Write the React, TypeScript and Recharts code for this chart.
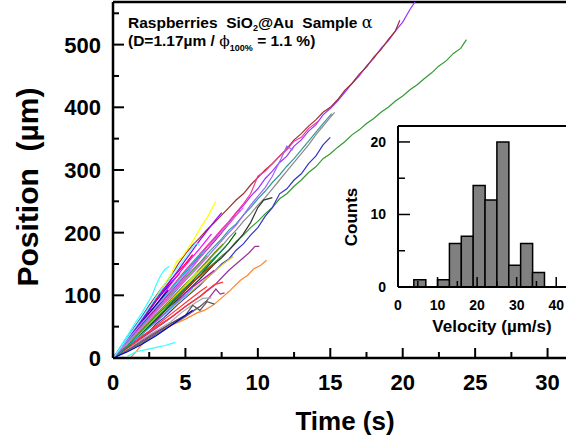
import { LineChart, Line, XAxis, YAxis, ReferenceLine, BarChart, Bar } from 'recharts';

// main plot: particle position vs time, one array of [t (s), x (µm)] per tracked raspberry
const trackPurple = [[0,0],[0.5,12],[1,22],[1.5,38],[2,50],[2.5,68],[3,80],[3.5,96],[4,108],[4.5,125],[5,136],[5.5,150],[6,163],[6.5,178],[7,190],[7.5,205],[8,216],[8.5,232],[9,243],[9.5,258],[10,270],[10.5,286],[11,298],[11.5,312],[12,322],[12.5,338],[13,348],[13.5,362],[14,372],[14.5,388],[15,398],[15.5,410],[16,424],[16.5,438],[17,450],[17.5,466],[18,478],[18.5,494],[19,506],[19.5,522],[20,536],[20.5,556],[20.9,570]];
const trackBrown = [[0,0],[0.5,15],[1,32],[1.5,50],[2,66],[2.5,84],[3,100],[3.5,116],[4,130],[4.5,150],[5,166],[5.5,180],[6,192],[6.5,205],[7,216],[7.5,228],[8,240],[8.5,252],[9,262],[9.5,276],[10,288],[10.5,300],[11,310],[11.5,322],[12,334],[12.5,348],[13,358],[13.5,370],[14,380],[14.5,392],[15,400],[15.5,412],[16,427],[16.5,438],[17,453],[17.5,464],[18,480],[18.5,492],[19,508],[19.5,522],[19.8,539]];
const trackGreen = [[0,0],[0.5,8],[1,20],[1.5,30],[2,42],[2.5,54],[3,64],[3.5,78],[4,88],[4.5,100],[5,110],[5.5,122],[6,130],[6.5,142],[7,152],[7.5,163],[8,172],[8.5,186],[9,196],[9.5,208],[10,218],[10.5,230],[11,240],[11.5,254],[12,262],[12.5,274],[13,284],[13.5,296],[14,305],[14.5,318],[15,326],[15.5,336],[16,345],[16.5,356],[17,364],[17.5,374],[18,382],[18.5,392],[19,400],[19.5,410],[20,418],[20.5,428],[21,436],[21.5,446],[22,455],[22.5,466],[23,474],[23.5,486],[24,494],[24.4,508]];
const trackBlue = [[0,0],[0.5,6],[1,14],[1.5,22],[2,34],[2.5,42],[3,55],[3.5,64],[4,75],[4.5,86],[5,96],[5.5,106],[6,116],[6.5,128],[7,138],[7.5,150],[8,158],[8.5,172],[9,182],[9.5,196],[10,208],[10.5,226],[11,240],[11.5,262],[12,270],[12.5,284],[13,294],[13.5,310],[14,322],[14.5,340],[15,352]];
const trackTeal = [[0,0],[1,26],[2,52],[2.5,62],[3,78],[3.5,90],[4,104],[4.5,114],[5,128],[5.5,140],[6,152],[6.5,166],[7,178],[7.5,190],[8,204],[8.5,214],[9,228],[9.5,240],[10,254],[10.5,266],[11,280],[11.5,292],[12,306],[12.5,318],[13,332],[13.5,346],[14,360],[14.5,374],[15.1,390]];
const trackGray = [[0,0],[1,22],[2,46],[3,70],[4,94],[5,118],[5.5,128],[6,142],[6.5,154],[7,166],[7.5,178],[8,192],[8.5,204],[9,218],[9.5,230],[10,244],[10.5,256],[11,270],[11.5,284],[12,298],[12.5,312],[13,326],[13.5,340],[14,356],[14.5,370],[15,384],[15.3,392]];
const trackPink = [[0,0],[1,28],[2,58],[3,84],[4,112],[5,140],[6,166],[7,192],[8,218],[9,246],[9.5,262],[10,290],[10.5,298],[11,310],[11.5,322],[12,332],[12.5,346],[13,352],[13.5,366],[14.2,378]];
const trackViolet = [[0,0],[1,25],[2,50],[3,74],[4,98],[5,124],[6,148],[7,174],[8,200],[8.5,212],[9,228],[9.5,244],[10,258],[10.5,272],[11,290],[11.6,318],[12,338],[12.4,332]];
const trackDark = [[0,0],[1,20],[2,42],[3,62],[4,84],[5,104],[6,126],[7,150],[7.5,160],[8,172],[8.5,184],[9,198],[9.5,216],[10,240],[10.4,252],[11,256]];
const trackYellow = [[0,0],[0.5,14],[1,30],[1.5,46],[2,62],[2.5,80],[3,98],[3.5,116],[4,134],[4.4,154],[4.8,162],[5.1,172],[5.5,186],[6,206],[6.5,224],[7.1,250]];
const trackOlive = [[0,0],[1,18],[2,38],[3,58],[4,78],[5,98],[6,118],[7,138],[7.6,150],[8.3,162]];
const trackPlum = [[0,0],[1,15],[2,32],[3,48],[4,64],[5,82],[6,98],[7,116],[7.5,128],[8,140],[8.5,150],[9,160],[9.4,168],[9.8,178],[10.1,178]];
const trackOrange = [[1.2,0],[1.6,10],[2,22],[2.6,38],[3,42],[3.5,46],[4,52],[4.4,56],[5,62],[5.8,72],[6.3,76],[6.9,84],[7.5,96],[8,106],[8.8,124],[9.3,132],[9.7,142],[10.2,148],[10.6,156]];
const trackCyanShort = [[1,3],[1.6,10],[2.2,13],[3,17],[3.6,20],[4.3,25]];
const trackCyanTall = [[0,0],[0.5,18],[1,36],[1.5,55],[2,72],[2.4,88],[2.7,100],[3,118],[3.3,132],[3.6,142],[3.9,146]];
const trackRed = [[0,0],[1,18],[2,35],[3,50],[4,65],[5,82],[6,98],[6.5,108],[7,117],[7.6,121]];
const trackMauve = [[0,0],[1,13],[2,28],[3,42],[4,55],[5,68],[5.5,75],[6,82],[6.5,92],[7.1,110],[7.4,102],[7.7,104]];
const trackSilver = [[0,0],[1,14],[2,30],[3,44],[4,58],[4.7,72],[5.2,80],[5.7,88],[6.2,95],[6.8,96]];
const trackCharcoal = [[0,0],[1,12],[2,26],[3,40],[4,55],[5,68],[5.5,84],[6,76],[6.5,90],[7,86]];
const s1 = [[0,0],[1,30],[2,62],[3,95],[4,125],[5,150],[5.5,165]];
const s2 = [[0,0],[0.5,10],[1,28],[2,60],[3,92],[4,120],[4.6,135]];
const s3 = [[0,0],[1,26],[2,55],[3,85],[4,118],[5,148],[6,175],[6.8,198]];
const s4 = [[0,0],[1,24],[2,50],[3,75],[4,102],[5,128],[6,152],[6.5,162]];
const s5 = [[0,0],[1,30],[2,58],[3,86],[3.8,108]];
const s6 = [[0,0],[1,22],[2,45],[3,68],[4,92],[5,112],[5.6,125]];
const s7 = [[0,0],[1,20],[2,40],[3,60],[4,80],[5,104],[6,122],[7,140]];
const s8 = [[0,0],[1,27],[2,52],[3,78],[4,100],[4.5,112]];
const s9 = [[0,0],[1,16],[2,34],[3,52],[4,70],[5,88],[6,106],[6.5,114]];
const s10 = [[0,0],[1,22],[2,46],[3,70],[4,94],[5,118],[6,142],[7,168],[7.6,182]];
const s11 = [[0,0],[1,24],[2,48],[3,74],[4,100],[5,126],[6,150],[6.6,164]];
const s12 = [[0,0],[1,18],[2,40],[3,62],[4,86],[5,108],[6,132],[7,158],[8,184],[8.5,200]];
const s13 = [[0,0],[1,32],[2,66],[3,98],[3.5,112]];
const s14 = [[0,0],[1,21],[2,43],[3,66],[4,88],[5,110],[6,132],[7,150]];
const s15 = [[0,0],[1,20],[2,42],[3,66],[4,90],[5,116],[5.8,138]];
const s16 = [[0,0],[1,25],[2,52],[3,82],[4,110],[5,138],[6,165],[6.3,172]];
const s17 = [[0,0],[1,12],[2,24],[3,38],[4,52],[5,66],[6,82],[6.5,92]];
const s18 = [[0,0],[1,30],[2,60],[3,92],[4,124],[5,156],[6,188],[7,218],[7.5,232]];
const s19 = [[0,0],[1,28],[2,54],[3,80],[4,106],[5,132],[6,160],[7,186],[8,214],[8.8,236]];
const s20 = [[0,0],[1,19],[2,38],[3,58],[4,80],[5,100],[5.5,112]];
const s21 = [[0,0],[1,22],[2,44],[3,68],[4,92],[5,116],[6,140],[6.8,158]];
const s22 = [[0,0],[1,10],[2,22],[3,36],[4,52],[5,68],[5.5,76]];
const s23 = [[0,0],[1,24],[2,50],[3,76],[4,104],[5,130],[6,160],[7,188],[8,215],[9,240]];
const s24 = [[0,0],[1,20],[2,44],[3,68],[4,90],[5,112],[6,136],[7,160],[7.8,178]];
const s25 = [[0,0],[1,28],[2,56],[3,82],[4,108],[5,134],[5.5,146]];
const s26 = [[0,0],[1,32],[2,64],[3,98],[4,130],[5,160],[5.7,183],[6,180]];

const tracks = [trackPurple, trackBrown, trackGreen, trackBlue, trackTeal, trackGray, trackPink, trackViolet, trackDark,
  trackYellow, trackOlive, trackPlum, trackOrange, trackCyanShort, trackCyanTall, trackRed, trackMauve, trackSilver, trackCharcoal,
  s1, s2, s3, s4, s5, s6, s7, s8, s9, s10, s11, s12, s13, s14, s15, s16, s17, s18, s19, s20, s21, s22, s23, s24, s25, s26];
const trackColors = ['#9933ff', '#993333', '#339933', '#3333cc', '#339999', '#888888', '#ff3399', '#9966ff', '#333333',
  '#ffff00', '#cccc33', '#993399', '#ff8833', '#33ffff', '#33ffff', '#ff3333', '#993399', '#aaaaaa', '#555555',
  '#ff0000', '#0000ff', '#ff00ff', '#00cc00', '#000080', '#000000', '#cc00cc', '#0099ff', '#ff3333', '#669900',
  '#ff66cc', '#006600', '#3366ff', '#cc3300', '#99ee66', '#00cccc', '#666666', '#9900ff', '#cc0066', '#3399ff',
  '#ffcc00', '#0000cc', '#cc66ff', '#009966', '#9999ff', '#66ffff'];

const timeTicks = [0, 2.5, 5, 7.5, 10, 12.5, 15, 17.5, 20, 22.5, 25, 27.5, 30, 32.5];
const posTicks = [0, 50, 100, 150, 200, 250, 300, 350, 400, 450, 500, 550];
const timeMax = 35;
const posMax = 568;

// inset histogram: velocity bins (µm/s, bin centres) and counts
const velBins = [5.5, 8.5, 11.5, 14.5, 17.5, 20.5, 23.5, 26.5, 29.5, 32.5, 35.5];
const velCounts = [1, 0, 1, 6, 7, 14, 12, 20, 3, 6, 2];
const velTicks = [0, 5, 10, 15, 20, 25, 30, 35, 40, 45];
const countTicks = [0, 5, 10, 15, 20];
const velMax = 45;
const countMax = 22.2;

const FONT = '"Liberation Sans", Arial, sans-serif';

const MainXTick = (props: any) => {
  const { x, y, payload } = props;
  const major = payload.value % 5 === 0;
  return (
    <g>
      <line x1={x} x2={x} y1={y} y2={y - (major ? 10 : 6)} stroke="#000" strokeWidth={2} />
      {major && (
        <text x={x} y={y + 32} textAnchor="middle" fontFamily={FONT} fontWeight="bold" fontSize={22} fill="#000">
          {payload.value}
        </text>
      )}
    </g>
  );
};

const MainYTick = (props: any) => {
  const { x, y, payload } = props;
  const major = payload.value % 100 === 0;
  return (
    <g>
      <line x1={x} x2={x + (major ? 11 : 6)} y1={y} y2={y} stroke="#000" strokeWidth={2} />
      {major && (
        <text x={x - 12} y={y + 8} textAnchor="end" fontFamily={FONT} fontWeight="bold" fontSize={22} fill="#000">
          {payload.value}
        </text>
      )}
    </g>
  );
};

const InsetXTick = (props: any) => {
  const { x, y, payload } = props;
  const major = payload.value % 10 === 0;
  return (
    <g>
      <line x1={x} x2={x} y1={y} y2={y - (major ? 10 : 6)} stroke="#000" strokeWidth={1.5} />
      {major && (
        <text x={x} y={y + 23} textAnchor="middle" fontFamily={FONT} fontWeight="bold" fontSize={14} fill="#000">
          {payload.value}
        </text>
      )}
    </g>
  );
};

const InsetYTick = (props: any) => {
  const { x, y, payload } = props;
  const major = payload.value % 10 === 0;
  return (
    <g>
      <line x1={x} x2={x + (major ? 12 : 7)} y1={y} y2={y} stroke="#000" strokeWidth={1.5} />
      {major && (
        <text x={x - 12} y={y + 5} textAnchor="end" fontFamily={FONT} fontWeight="bold" fontSize={14} fill="#000">
          {payload.value}
        </text>
      )}
    </g>
  );
};

export default function App() {
  const series = tracks.map((tr) => tr.map(([t, p]) => ({ t, p })));
  const hist = velBins.map((v, i) => ({ v, n: velCounts[i] }));

  return (
    <div style={{ position: 'fixed', left: 0, top: 0, width: 566, height: 442, overflow: 'hidden', background: '#fff', fontFamily: FONT }}>
      <LineChart width={620} height={442} margin={{ top: 2, right: 0, bottom: 0, left: 0 }}>
        <XAxis
          type="number"
          dataKey="t"
          domain={[0, timeMax]}
          ticks={timeTicks}
          interval={0}
          allowDataOverflow
          height={84}
          tickSize={0}
          tickMargin={0}
          tick={<MainXTick />}
          axisLine={{ stroke: '#000', strokeWidth: 2.5 }}
        />
        <YAxis
          type="number"
          domain={[0, posMax]}
          ticks={posTicks}
          interval={0}
          allowDataOverflow
          width={113}
          tickSize={0}
          tickMargin={0}
          tick={<MainYTick />}
          axisLine={{ stroke: '#000', strokeWidth: 2.5 }}
        />
        <ReferenceLine y={posMax} stroke="#000" strokeWidth={2.5} />
        {series.map((d, i) => (
          <Line
            key={i}
            data={d}
            dataKey="p"
            type="linear"
            stroke={trackColors[i]}
            strokeWidth={1.2}
            dot={false}
            activeDot={false}
            isAnimationActive={false}
          />
        ))}
      </LineChart>

      <div style={{ position: 'absolute', left: 128, top: 15, fontSize: 15.5, fontWeight: 'bold', lineHeight: 1, whiteSpace: 'pre', color: '#000' }}>
        {'Raspberries  SiO'}
        <sub style={{ fontSize: 9, verticalAlign: -3 }}>2</sub>
        {'@Au  Sample '}
        <span style={{ fontFamily: '"DejaVu Serif", serif', fontWeight: 'normal', fontSize: 16 }}>α</span>
      </div>
      <div style={{ position: 'absolute', left: 128, top: 33, fontSize: 15.5, fontWeight: 'bold', lineHeight: 1, whiteSpace: 'pre', color: '#000' }}>
        {'(D=1.17µm / '}
        <span style={{ fontFamily: '"DejaVu Serif", serif', fontWeight: 'normal' }}>ϕ</span>
        <sub style={{ fontSize: 9, verticalAlign: -5 }}>100%</sub>
        {' = 1.1 %)'}
      </div>

      <div style={{ position: 'absolute', left: 28, top: 187, transform: 'translate(-50%, -50%) rotate(-90deg)', fontSize: 30, fontWeight: 'bold', whiteSpace: 'pre', lineHeight: 1, color: '#000' }}>
        {'Position  (µm)'}
      </div>
      <div style={{ position: 'absolute', left: 345, top: 421, transform: 'translate(-50%, -50%)', fontSize: 26, fontWeight: 'bold', whiteSpace: 'pre', lineHeight: 1, color: '#000' }}>
        Time (s)
      </div>

      <div style={{ position: 'absolute', left: 340, top: 120 }}>
        <BarChart width={240} height={220} data={hist} margin={{ top: 6, right: 4, bottom: 0, left: 0 }} barCategoryGap={0} barGap={0}>
          <XAxis
            type="number"
            dataKey="v"
            domain={[0, velMax]}
            ticks={velTicks}
            interval={0}
            height={53}
            tickSize={0}
            tickMargin={0}
            tick={<InsetXTick />}
            axisLine={{ stroke: '#000', strokeWidth: 2 }}
          />
          <YAxis
            type="number"
            domain={[0, countMax]}
            ticks={countTicks}
            interval={0}
            width={58}
            tickSize={0}
            tickMargin={0}
            tick={<InsetYTick />}
            axisLine={{ stroke: '#000', strokeWidth: 2 }}
          />
          <ReferenceLine y={countMax} stroke="#000" strokeWidth={2} />
          <Bar dataKey="n" fill="#808080" stroke="#000" strokeWidth={1.5} isAnimationActive={false} />
        </BarChart>
      </div>
      <div style={{ position: 'absolute', left: 351, top: 217, transform: 'translate(-50%, -50%) rotate(-90deg)', fontSize: 17, fontWeight: 'bold', whiteSpace: 'pre', lineHeight: 1, color: '#000' }}>
        Counts
      </div>
      <div style={{ position: 'absolute', left: 492, top: 326, transform: 'translate(-50%, -50%)', fontSize: 17, fontWeight: 'bold', whiteSpace: 'pre', lineHeight: 1, color: '#000' }}>
        Velocity (µm/s)
      </div>
    </div>
  );
}
